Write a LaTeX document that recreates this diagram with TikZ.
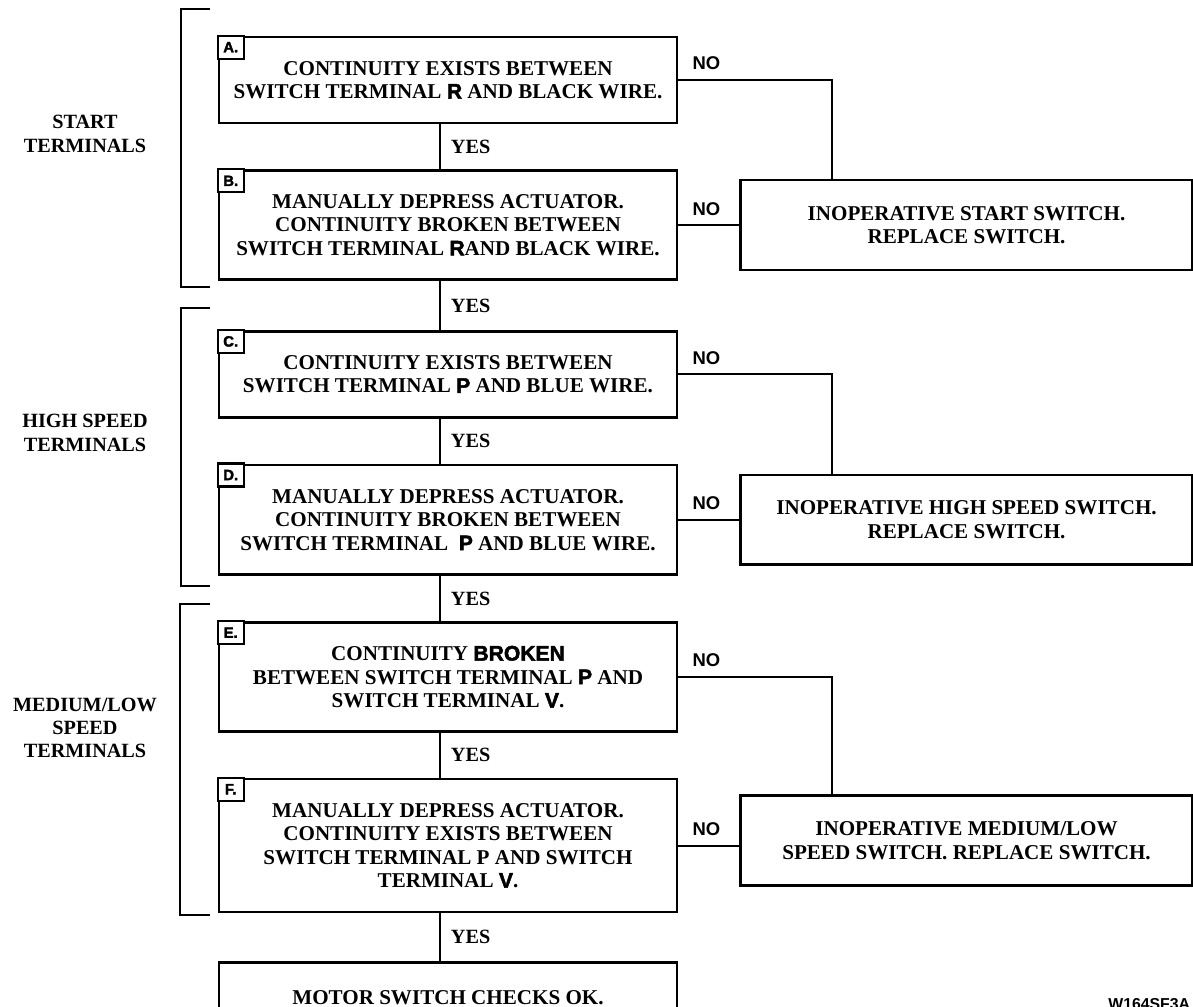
\documentclass[tikz,border=0pt]{standalone}
\usepackage{fontspec}
\setmainfont{Liberation Serif}
\setsansfont{Liberation Sans}
\newfontfamily\heavysf{Liberation Sans Bold}[FakeBold=2.2]
\usepackage{tikz}
\usetikzlibrary{positioning,calc}
\newcommand{\termltr}[1]{{\heavysf #1}}
\tikzset{
  checkbox/.style={draw,line width=1.5pt,align=center,minimum width=9.16cm,
    inner sep=2pt,font=\fontsize{12}{13.4}\selectfont\bfseries},
  resultbox/.style={draw,line width=1.5pt,align=center,minimum width=9.04cm,
    minimum height=1.8cm,font=\fontsize{12}{13.4}\selectfont\bfseries},
  tagbox/.style={draw,line width=1.2pt,fill=white,anchor=north west,outer sep=0pt,
    inner sep=0pt,minimum width=0.52cm,minimum height=0.46cm,
    font=\heavysf\fontsize{8.5}{9}\selectfont},
  flowline/.style={line width=1.1pt},
  bracketline/.style={line width=1.3pt},
  yeslabel/.style={inner sep=0pt,anchor=west,xshift=0.2cm,
    font=\fontsize{11.5}{12}\selectfont\bfseries},
  nolabel/.style={inner sep=0pt,anchor=south west,
    font=\sffamily\bfseries\fontsize{10.5}{12}\selectfont},
  grouplabel/.style={align=center,font=\fontsize{11.5}{13.2}\selectfont\bfseries}
}
\begin{document}
\begin{tikzpicture}[x=0.02cm,y=-0.02cm,node distance=0.9cm and 1.22cm]
  \useasboundingbox (0,0) rectangle (1193,1007);
  % checks down the left column
  \node[checkbox,minimum height=1.72cm] (chkA) at (448,80)
    {CONTINUITY EXISTS BETWEEN\\SWITCH TERMINAL \termltr{R} AND BLACK WIRE.};
  \node[checkbox,minimum height=2.18cm,below=of chkA] (chkB)
    {MANUALLY DEPRESS ACTUATOR.\\CONTINUITY BROKEN BETWEEN\\SWITCH TERMINAL \termltr{R}AND BLACK WIRE.};
  \node[checkbox,minimum height=1.72cm,below=0.98cm of chkB] (chkC)
    {CONTINUITY EXISTS BETWEEN\\SWITCH TERMINAL \termltr{P} AND BLUE WIRE.};
  \node[checkbox,minimum height=2.2cm,below=of chkC] (chkD)
    {MANUALLY DEPRESS ACTUATOR.\\CONTINUITY BROKEN BETWEEN\\SWITCH TERMINAL\ \ \termltr{P} AND BLUE WIRE.};
  \node[checkbox,minimum height=2.18cm,below=of chkD] (chkE)
    {CONTINUITY \termltr{BROKEN}\\BETWEEN SWITCH TERMINAL \termltr{P} AND\\SWITCH TERMINAL \termltr{V}.};
  \node[checkbox,minimum height=2.66cm,below=of chkE] (chkF)
    {MANUALLY DEPRESS ACTUATOR.\\CONTINUITY EXISTS BETWEEN\\SWITCH TERMINAL P AND SWITCH\\TERMINAL \termltr{V}.};
  \node[checkbox,minimum height=1.4cm,below=0.96cm of chkF] (okbox)
    {MOTOR SWITCH CHECKS OK.};
  % letter tags
  \node[tagbox] (tagA) at (chkA.north west) {A.};
  \node[tagbox] (tagB) at (chkB.north west) {B.};
  \node[tagbox] (tagC) at (chkC.north west) {C.};
  \node[tagbox] (tagD) at (chkD.north west) {D.};
  \node[tagbox] (tagE) at (chkE.north west) {E.};
  \node[tagbox] (tagF) at (chkF.north west) {F.};
  % failed switch results
  \node[resultbox,right=of chkB] (startsw)
    {INOPERATIVE START SWITCH.\\REPLACE SWITCH.};
  \node[resultbox,right=of chkD] (highsw)
    {INOPERATIVE HIGH SPEED SWITCH.\\REPLACE SWITCH.};
  \node[resultbox,right=of chkF,yshift=0.1cm] (medsw)
    {INOPERATIVE MEDIUM/LOW\\SPEED SWITCH. REPLACE SWITCH.};
  % YES path
  \coordinate (stem) at (440,0);
  \draw[flowline] (chkA.south -| stem) -- node[yeslabel] {YES} (chkB.north -| stem);
  \draw[flowline] (chkB.south -| stem) -- node[yeslabel] {YES} (chkC.north -| stem);
  \draw[flowline] (chkC.south -| stem) -- node[yeslabel] {YES} (chkD.north -| stem);
  \draw[flowline] (chkD.south -| stem) -- node[yeslabel] {YES} (chkE.north -| stem);
  \draw[flowline] (chkE.south -| stem) -- node[yeslabel] {YES} (chkF.north -| stem);
  \draw[flowline] (chkF.south -| stem) -- node[yeslabel] {YES} (okbox.north -| stem);
  % NO path
  \coordinate (drop) at (832,0);
  \draw[flowline] (chkA.east) -| (drop |- startsw.north);
  \draw[flowline] (chkB.east) -- (chkB.east -| startsw.west);
  \draw[flowline] (chkC.east) -| (drop |- highsw.north);
  \draw[flowline] (chkD.east) -- (chkD.east -| highsw.west);
  \draw[flowline] (chkE.east) -| (drop |- medsw.north);
  \draw[flowline] (chkF.east) -- (chkF.east -| medsw.west);
  \foreach \chk in {chkA,chkB,chkC,chkD,chkE,chkF}
    \node[nolabel] at ([xshift=0.28cm,yshift=0.19cm]\chk.east) {NO};
  % groups
  \draw[bracketline] (210,9) -| (181,287) -- (210,287);
  \draw[bracketline] (210,308) -| (181,586) -- (210,586);
  \draw[bracketline] (210,604) -| (180,915) -- (210,915);
  \node[grouplabel] (startgrp) at (85,134) {START\\TERMINALS};
  \node[grouplabel] (highgrp) at (85,433) {HIGH SPEED\\TERMINALS};
  \node[grouplabel] (medgrp) at (85,728) {MEDIUM/LOW\\SPEED\\TERMINALS};
  \node[anchor=north west,inner sep=0pt,font=\sffamily\bfseries\fontsize{9}{10}\selectfont]
    (figcode) at (1108,998) {W164SF3A};
\end{tikzpicture}
\end{document}
